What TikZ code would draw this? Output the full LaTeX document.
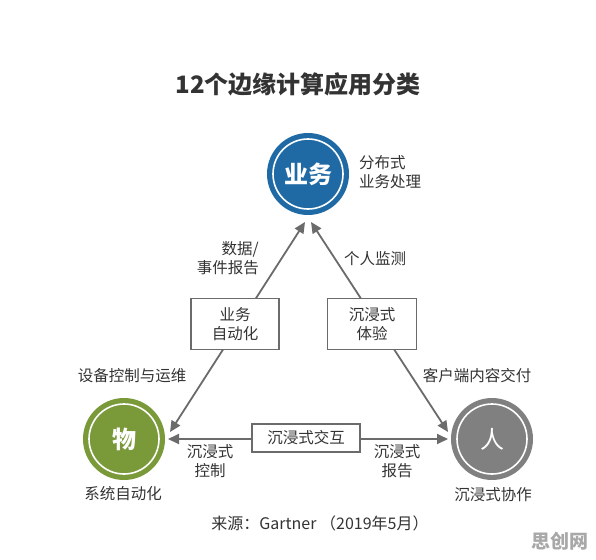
\documentclass[tikz,border=0pt]{standalone}
\usepackage{fontspec}
\setmainfont{Noto Sans CJK SC}
\usetikzlibrary{arrows.meta,backgrounds}
\definecolor{cblue}{HTML}{1F6AA5}
\definecolor{cgreen}{HTML}{7A9A3A}
\definecolor{cgray}{HTML}{808080}
\definecolor{lgray}{HTML}{6B6B6B}
\definecolor{txt}{HTML}{333333}
\definecolor{wm}{HTML}{A8A8A8}
\begin{document}
\begin{tikzpicture}[x=1pt,y=-1pt,
  lbl/.style={font=\fontsize{15.5}{19.5}\selectfont, text=txt, align=center, inner sep=0pt},
  hub/.style={circle, minimum size=82pt, inner sep=0pt, text=white, font=\fontsize{24}{24}\selectfont\bfseries},
  ring/.style={draw=white, line width=1.6pt},
  stagebox/.style={draw=lgray, line width=1.3pt, fill=white, align=center, inner sep=0pt,
    font=\fontsize{15.5}{19.5}\selectfont, text=txt},
  link/.style={draw=lgray, line width=1.8pt,
    {Triangle[length=11pt,width=10pt]}-{Triangle[length=11pt,width=10pt]}}
]
% title
\node[font=\fontsize{24}{24}\selectfont\bfseries, text=txt, inner sep=0pt] (title) at (298,84) {12个边缘计算应用分类};

% hubs
\node[hub, fill=cblue] (biz) at (308,174) {业务};
\draw[ring] (biz.center) circle[radius=35pt];
\node[hub, fill=cgreen] (thing) at (124,439) {物};
\draw[ring] (thing.center) circle[radius=35pt];
\node[hub, fill=cgray, font=\fontsize{24}{24}\selectfont] (person) at (492,439) {人};
\draw[ring] (person.center) circle[radius=35pt];

% hub captions
\node[lbl, align=left, anchor=west] (bizcap) at (359,172) {分布式\\业务处理};
\node[lbl] (thingcap) at (123,494) {系统自动化};
\node[lbl] (personcap) at (493,495) {沉浸式协作};

% boxes
\node[stagebox, minimum width=88pt, minimum height=51pt] (bauto) at (235,324) {业务\\自动化};
\node[stagebox, minimum width=89pt, minimum height=51pt] (bexp) at (372,324) {沉浸式\\体验};
\node[stagebox, minimum width=108pt, minimum height=28pt] (binter) at (306,438) {沉浸式交互};

% tips
\coordinate (tipTL) at (305,222);
\coordinate (tipTR) at (311,222);
\coordinate (tipL) at (170,432);
\coordinate (tipR) at (448,432);
\coordinate (tipHL) at (168,439);
\coordinate (tipHR) at (448,439);

\begin{scope}[on background layer]
\fill[white] (0,0) rectangle (596,559);
\draw[link] (tipTL) -- (tipL);
\draw[link] (tipTR) -- (tipR);
\draw[link] (tipHL) -- (tipHR);
\end{scope}

% edge labels
\node[lbl, align=right, anchor=east] (l1) at (259,258) {数据/\\事件报告};
\node[lbl] (l2) at (375,259) {个人监测};
\node[lbl] (l3) at (132,376) {设备控制与运维};
\node[lbl] (l4) at (477,376) {客户端内容交付};
\node[lbl] (l5) at (210,461) {沉浸式\\控制};
\node[lbl] (l6) at (397,461) {沉浸式\\报告};

% source
\node[lbl, font=\fontsize{16}{19.5}\selectfont] (src) at (320,523) {来源：Gartner （2019年5月）};

% watermark
\node[font=\fontsize{19}{19}\selectfont\bfseries, text=wm, inner sep=0pt] (wmark) at (560,541) {思创网};

\useasboundingbox (0,0) rectangle (596,559);
\end{tikzpicture}
\end{document}
